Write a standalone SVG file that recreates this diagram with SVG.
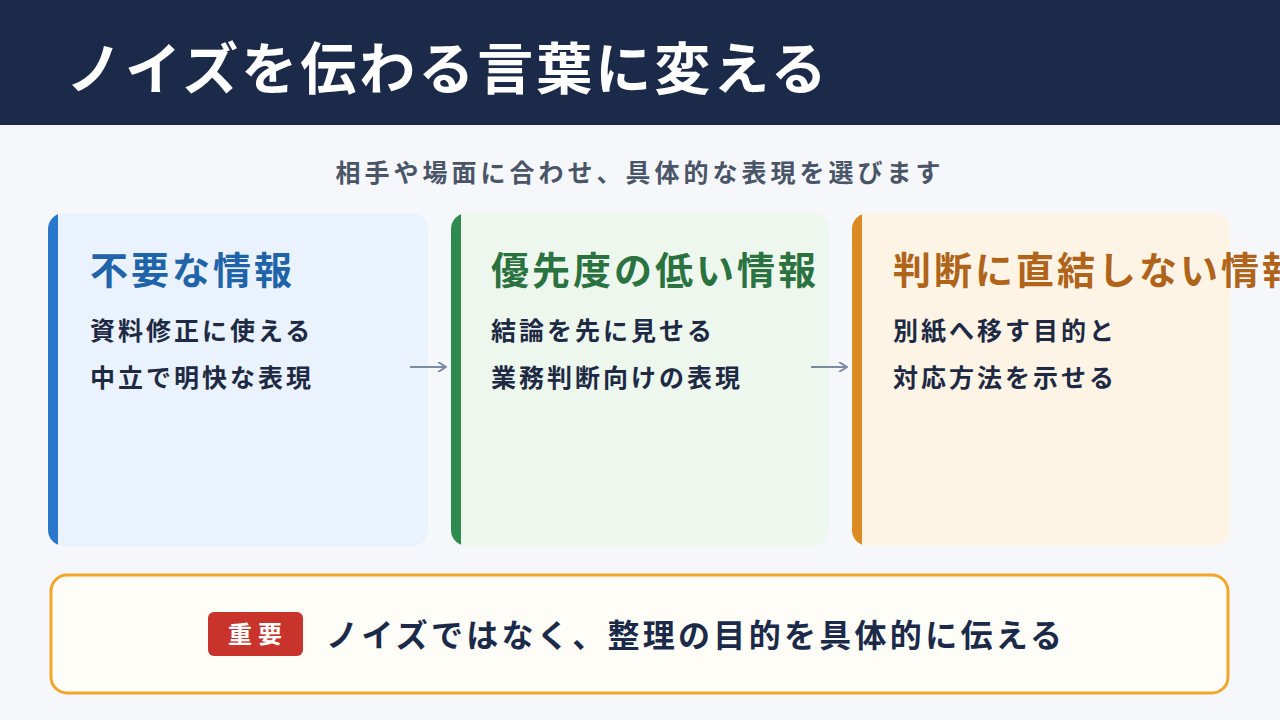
<svg xmlns="http://www.w3.org/2000/svg" width="1280" height="720" viewBox="0 0 1280 720">
<style>
text{font-family:"Noto Sans CJK JP","Noto Sans",sans-serif;font-weight:700}
.ct{font-size:38px;letter-spacing:3px}
.cb{font-size:25px;letter-spacing:3px;fill:#1e2a44}
.ar{stroke:#7a8aa0;stroke-width:2;fill:none}
</style>
<defs>
<marker id="ah" viewBox="0 0 10 10" refX="9" refY="5" markerWidth="10" markerHeight="10" markerUnits="userSpaceOnUse" orient="auto"><path d="M1 0L9 5L1 10" fill="none" stroke="#7a8aa0" stroke-width="2"/></marker>
<clipPath id="c1"><rect x="48" y="213" width="380" height="333" rx="16"/></clipPath>
<clipPath id="c2"><rect x="451" y="213" width="378" height="333" rx="16"/></clipPath>
<clipPath id="c3"><rect x="852" y="213" width="378" height="333" rx="16"/></clipPath>
</defs>
<rect width="1280" height="720" fill="#f5f7fb"/>
<g id="header"><rect width="1280" height="125" fill="#1c2a4a"/>
<text x="66" y="89" font-size="56" letter-spacing="3" fill="#fff">ノイズを伝わる言葉に変える</text></g>
<text id="subtitle" x="640" y="182" font-size="25" letter-spacing="4" fill="#4a5568" text-anchor="middle">相手や場面に合わせ、具体的な表現を選びます</text>
<g id="card1"><g clip-path="url(#c1)"><rect x="48" y="213" width="380" height="333" fill="#e9f2fd"/><rect x="48" y="213" width="10" height="333" fill="#2a78cc"/></g>
<text class="ct" x="90" y="284" fill="#1f63a8">不要な情報</text>
<text class="cb" x="90" y="340">資料修正に使える</text><text class="cb" x="90" y="387">中立で明快な表現</text></g>
<g id="card2"><g clip-path="url(#c2)"><rect x="451" y="213" width="378" height="333" fill="#edf7ee"/><rect x="451" y="213" width="10" height="333" fill="#2f8a4f"/></g>
<text class="ct" x="491" y="284" fill="#2a7240">優先度の低い情報</text>
<text class="cb" x="491" y="340">結論を先に見せる</text><text class="cb" x="491" y="387">業務判断向けの表現</text></g>
<g id="card3"><g clip-path="url(#c3)"><rect x="852" y="213" width="378" height="333" fill="#fef4e6"/><rect x="852" y="213" width="10" height="333" fill="#dc8a24"/></g>
<text class="ct" x="893" y="284" fill="#b0641a">判断に直結しない情報</text>
<text class="cb" x="893" y="340">別紙へ移す目的と</text><text class="cb" x="893" y="387">対応方法を示せる</text></g>
<g id="connectors"><path class="ar" d="M410 367H446" marker-end="url(#ah)"/><path class="ar" d="M811 367H847" marker-end="url(#ah)"/></g>
<g id="callout"><rect x="51" y="575" width="1177" height="118" rx="16" fill="#fffdf8" stroke="#f2a62a" stroke-width="3"/>
<rect x="208" y="612" width="95" height="44" rx="6" fill="#c8342b"/>
<text x="258" y="643" font-size="24" letter-spacing="6" fill="#fff" text-anchor="middle">重要</text>
<text x="326" y="647" font-size="32" letter-spacing="3.3" fill="#1c2a4a">ノイズではなく、整理の目的を具体的に伝える</text></g>
</svg>
